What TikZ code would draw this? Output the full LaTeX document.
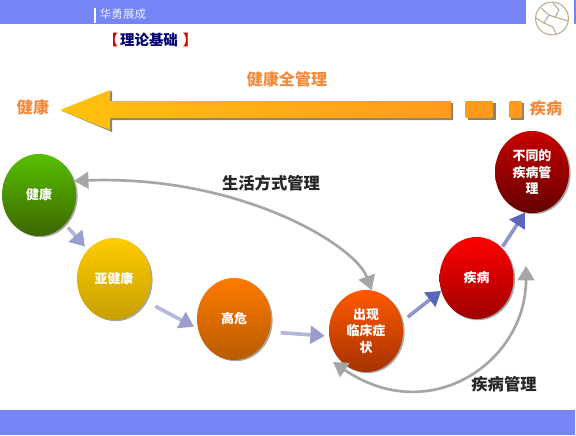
\documentclass[tikz,border=0pt]{standalone}
\usepackage{fontspec}
\setmainfont{Noto Sans CJK SC}
\usetikzlibrary{positioning,arrows.meta,shapes.geometric,shadows,calc}
\definecolor{barra}{HTML}{7585F6}
\definecolor{naranja}{HTML}{F28A3C}
\definecolor{lila}{HTML}{B4B6DE}
\definecolor{lilaosc}{HTML}{9A9DCE}
\definecolor{azulon}{HTML}{8E94CC}
\definecolor{azulosc}{HTML}{5A66BA}
\definecolor{gris}{HTML}{A6A6A6}
\definecolor{sombra}{HTML}{8C8468}
\definecolor{globito}{HTML}{BFAF98}
\definecolor{oroa}{HTML}{FFC20E}
\definecolor{orob}{HTML}{FF9A1E}

\begin{document}
\begin{tikzpicture}[x=0.025cm, y=-0.025cm, font=\footnotesize,
      bola/.style={ellipse, minimum width=1.85cm, minimum height=2.05cm, inner sep=0pt,
                   align=center, text=white, font=\fontsize{9.2}{12}\selectfont\bfseries,
                   drop shadow={shadow xshift=0.4mm, shadow yshift=-0.3mm, fill=black, opacity=0.35}},
      flecha/.style={-{Triangle[length=3.6mm, width=4.4mm, color=lilaosc]}, line width=2.6pt, lila,
                     shorten <=8pt, shorten >=3pt},
      flechaz/.style={-{Triangle[length=3.6mm, width=4.4mm, color=azulosc]}, line width=2.6pt, azulon,
                     shorten <=5pt, shorten >=0pt},
      curva/.style={{Triangle[length=3.6mm, width=4.2mm]}-{Triangle[length=3.6mm, width=4.2mm]},
                    line width=1.9pt, gris},
      rotulo/.style={text=naranja, font=\fontsize{11.4}{14}\selectfont\bfseries},
      negro/.style={text=black!85, font=\fontsize{11.6}{14}\selectfont\bfseries},
      corchete/.style={inner sep=0pt, text=red!85!black, font=\fontsize{10.3}{13}\selectfont\bfseries}]
    \useasboundingbox (0,0) rectangle (576,435);
    \fill[white] (0,0) rectangle (576,435);
    % barras
    \fill[barra] (0,0) rectangle (526,24);
    \fill[barra] (0,410) rectangle (575,435);
    \fill[barra] (574,0) rectangle (576,24);
    \draw[white, line width=0.8pt] (95,8) -- (95,23);
    \node[text=white!85!barra, font=\fontsize{8.2}{10}\selectfont] (marca) at (123,14) {华勇展成};
    \node[inner sep=0pt, font=\fontsize{10.3}{13}\selectfont\bfseries, text=blue!45!black] (tema) at (149,40) {理论基础};
    \node[corchete, left=1pt of tema] (izq) {【};
    \node[corchete, right=3pt of tema] (der) {】};
    % globo
    \node[circle, draw=globito, line width=0.8pt, minimum size=0.82cm] (globo) at (552,18.5) {};
    \draw[globito, line width=0.8pt] (541,8) -- (549,15) -- (544,23) -- (553,27) -- (556,34);
    \draw[globito, line width=0.8pt] (553,3) -- (559,10) -- (555,17) -- (568,21);
    \draw[globito, line width=0.8pt] (536,18) -- (544,23);
    \draw[globito, line width=0.8pt] (549,15) -- (555,17);
    % flecha grande
    \node[rotulo] (total) at (287,79) {健康全管理};
    \node[rotulo] (sano) at (33,107) {健康};
    \node[rotulo] (enfermo) at (546,108) {疾病};
    \fill[sombra] (62,111) -- (112,91) -- (112,103) -- (453,103) -- (453,120) -- (112,120) -- (112,132) -- cycle;
    \fill[sombra] (468,103) rectangle (496,120);
    \fill[sombra] (511,103) rectangle (524,120);
    \shade[left color=oroa, right color=orob] (60,110) -- (110,90) -- (110,101) -- (451,101) -- (451,118) -- (110,118) -- (110,130) -- cycle;
    \fill[orob, rounded corners=1pt] (465,101) rectangle (493,118);
    \fill[orob, rounded corners=1pt] (509,101) rectangle (522,118);
    % etapas
    \node[bola, top color=green!55!yellow!75!black, bottom color=green!40!yellow!40!black] (jk) at (39,195) {健康};
    \node[bola, top color=orange!40!yellow, bottom color=orange!40!yellow!78!black] (yjk) at (114,279) {亚健康};
    \node[bola, top color=orange!90!red!95!yellow, bottom color=orange!72!black] (gw) at (234,319) {高危};
    \node[bola, top color=orange!70!red, bottom color=orange!60!red!65!black] (cx) at (366,331) {出现\\临床症\\状};
    \node[bola, top color=red, bottom color=red!62!black] (jb) at (476.5,278) {疾病};
    \node[bola, top color=red!78!black, bottom color=red!40!black] (bt) at (532,172) {不同的\\疾病管\\理};
    \draw[flecha, shorten <=3pt] (jk) -- (yjk);
    \draw[flecha] (yjk.-35) -- (gw.195);
    \draw[flecha] (gw.-20) -- (cx.188);
    \draw[flechaz] (cx.15) -- (jb.200);
    \draw[flechaz, shorten <=1pt] (jb.50) -- (bt.-100);
    \coordinate (retorno) at (526,266);
    \draw[curva] (cx.82) .. controls (355,245) and (240,175) .. (jk.22);
    \draw[curva] (retorno) .. controls (526,362) and (430,428) .. (333,362);
    \node[negro] (vida) at (271,183) {生活方式管理};
    \node[negro] (gestion) at (504,384) {疾病管理};
  \end{tikzpicture}
\end{document}
